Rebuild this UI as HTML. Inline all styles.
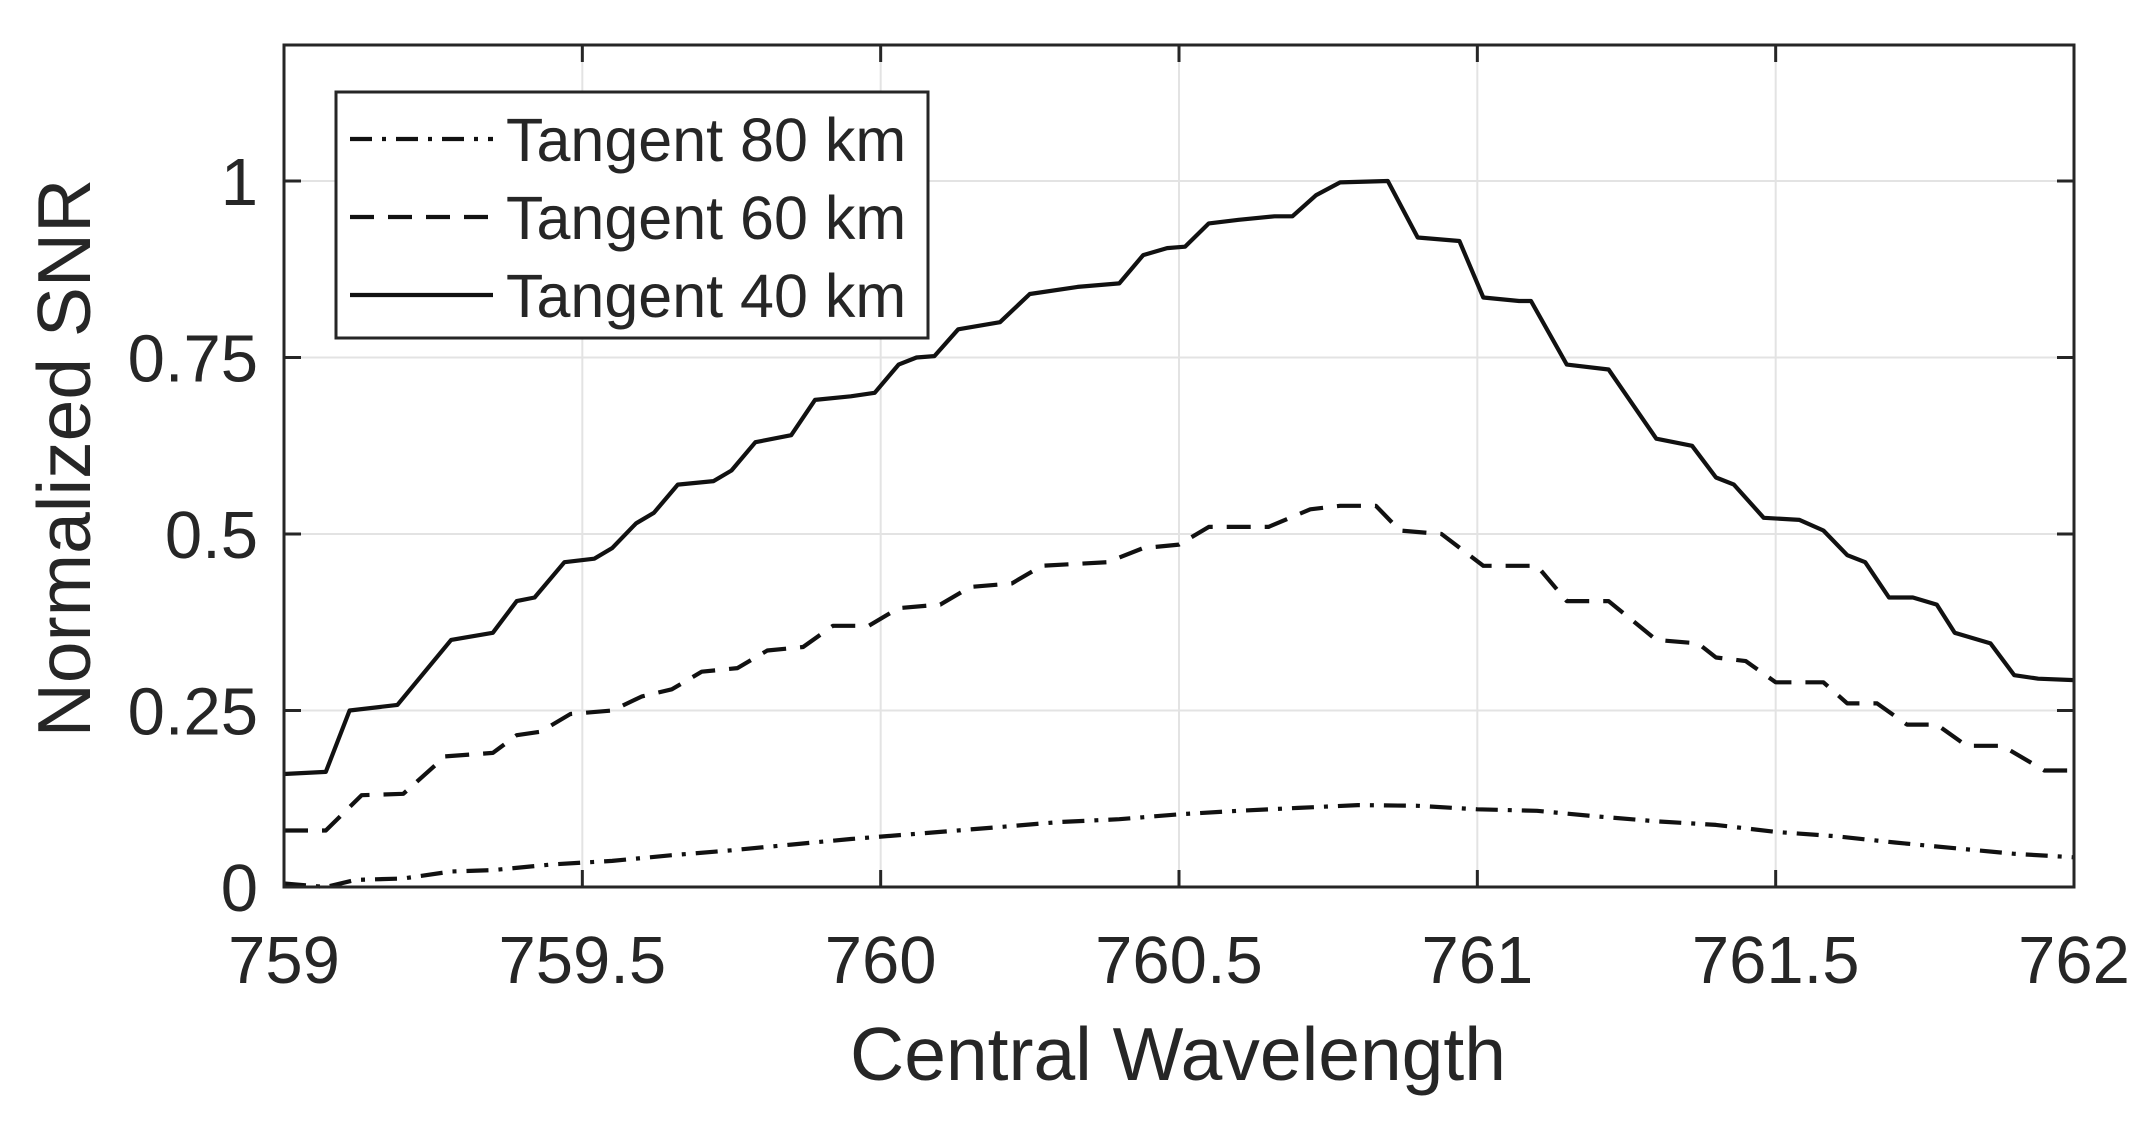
<!DOCTYPE html>
<html><head><meta charset="utf-8"><style>
html,body{margin:0;padding:0;background:#fff;}
svg{display:block;}
text{font-family:"Liberation Sans",sans-serif;fill:#262626;}
</style></head><body>
<svg id="s" width="2151" height="1128" viewBox="0 0 2151 1128" xmlns="http://www.w3.org/2000/svg">
<g id="grid" stroke="#e3e3e3" stroke-width="2"></g>
<g id="series" fill="none" stroke="#111" stroke-width="4.2" stroke-linejoin="round"></g>
<rect x="284" y="45" width="1790" height="842" fill="none" stroke="#262626" stroke-width="3"/>
<g id="ticks" stroke="#262626" stroke-width="3"></g>
<g id="labels" font-size="67"></g>
<text x="1178" y="1080" font-size="75" text-anchor="middle">Central Wavelength</text>
<text transform="translate(90,458) rotate(-90)" font-size="75" text-anchor="middle">Normalized SNR</text>
<rect x="336" y="92" width="592" height="246" fill="#fff" stroke="#262626" stroke-width="3"/>
<line x1="350" y1="139" x2="493" y2="139" stroke="#111" stroke-width="4.2" stroke-dasharray="22,10,4,10"/>
<line x1="350" y1="217" x2="493" y2="217" stroke="#111" stroke-width="4.2" stroke-dasharray="24,14"/>
<line x1="350" y1="295" x2="493" y2="295" stroke="#111" stroke-width="4.2"/>
<text x="506" y="161" font-size="61">Tangent 80 km</text>
<text x="506" y="239" font-size="61">Tangent 60 km</text>
<text x="506" y="317" font-size="61">Tangent 40 km</text>
</svg>
<script>
var X=function(v){return 284+(v-759)*596.67;}, Y=function(v){return 887-v*706;};
var ns="http://www.w3.org/2000/svg";
function el(p,t,a){var e=document.createElementNS(ns,t);for(var k in a)e.setAttribute(k,a[k]);document.getElementById(p).appendChild(e);return e;}
var xt=[759,759.5,760,760.5,761,761.5,762], yt=[0,0.25,0.5,0.75,1];
xt.forEach(function(v){var x=X(v);el("grid","line",{x1:x,y1:45,x2:x,y2:887});
el("ticks","line",{x1:x,y1:887,x2:x,y2:870});el("ticks","line",{x1:x,y1:45,x2:x,y2:62});
var t=el("labels","text",{x:x,y:983,"text-anchor":"middle"});t.textContent=String(v);});
yt.forEach(function(v){var y=Y(v);el("grid","line",{x1:284,y1:y,x2:2074,y2:y});
el("ticks","line",{x1:284,y1:y,x2:301,y2:y});el("ticks","line",{x1:2074,y1:y,x2:2057,y2:y});
var t=el("labels","text",{x:258,y:y+24,"text-anchor":"end"});t.textContent=String(v);});
var solid=[759,0.16,759.07,0.163,759.11,0.25,759.19,0.258,759.28,0.35,759.35,0.36,759.39,0.405,759.42,0.41,759.47,0.46,759.52,0.465,759.55,0.48,759.59,0.515,759.62,0.53,759.66,0.57,759.72,0.575,759.75,0.59,759.79,0.63,759.85,0.64,759.89,0.69,759.95,0.695,759.99,0.70,760.03,0.74,760.06,0.75,760.09,0.752,760.13,0.79,760.2,0.8,760.25,0.84,760.33,0.85,760.4,0.855,760.44,0.895,760.48,0.905,760.51,0.907,760.55,0.94,760.6,0.945,760.66,0.95,760.69,0.95,760.73,0.98,760.77,0.998,760.85,1.0,760.9,0.92,760.97,0.915,761.01,0.835,761.07,0.83,761.09,0.83,761.15,0.74,761.22,0.733,761.3,0.635,761.36,0.625,761.4,0.58,761.43,0.57,761.48,0.523,761.54,0.52,761.58,0.505,761.62,0.47,761.65,0.46,761.69,0.41,761.73,0.41,761.77,0.4,761.8,0.36,761.86,0.345,761.9,0.3,761.94,0.295,762,0.293];
var dash=[759,0.08,759.07,0.08,759.13,0.13,759.2,0.132,759.27,0.185,759.35,0.19,759.39,0.215,759.43,0.22,759.48,0.245,759.55,0.25,759.6,0.27,759.65,0.28,759.7,0.305,759.76,0.31,759.81,0.335,759.87,0.34,759.92,0.37,759.98,0.37,760.03,0.395,760.1,0.4,760.15,0.425,760.22,0.43,760.27,0.455,760.38,0.46,760.44,0.48,760.5,0.485,760.55,0.51,760.65,0.51,760.72,0.535,760.77,0.54,760.83,0.54,760.87,0.505,760.94,0.5,761.01,0.455,761.1,0.455,761.15,0.405,761.22,0.405,761.3,0.35,761.37,0.345,761.4,0.325,761.45,0.32,761.5,0.29,761.58,0.29,761.62,0.26,761.67,0.26,761.72,0.23,761.77,0.23,761.82,0.2,761.88,0.2,761.95,0.165,762,0.165];
var dd=[759,0.005,759.07,0.0,759.12,0.01,759.2,0.012,759.28,0.022,759.35,0.024,759.45,0.032,759.55,0.037,759.65,0.045,759.75,0.052,759.85,0.06,759.95,0.068,760.1,0.078,760.2,0.085,760.3,0.092,760.4,0.096,760.5,0.103,760.6,0.108,760.7,0.112,760.8,0.116,760.9,0.115,761,0.11,761.1,0.108,761.2,0.1,761.3,0.093,761.4,0.088,761.5,0.078,761.6,0.072,761.7,0.063,761.8,0.055,761.9,0.047,762,0.042];
function pts(a){var s=[];for(var i=0;i<a.length;i+=2)s.push(X(a[i]).toFixed(1)+","+Y(a[i+1]).toFixed(1));return s.join(" ");}
el("series","polyline",{points:pts(solid)});
el("series","polyline",{points:pts(dash),"stroke-dasharray":"24,14"});
el("series","polyline",{points:pts(dd),"stroke-dasharray":"22,10,4,10"});
</script>
</body></html>
